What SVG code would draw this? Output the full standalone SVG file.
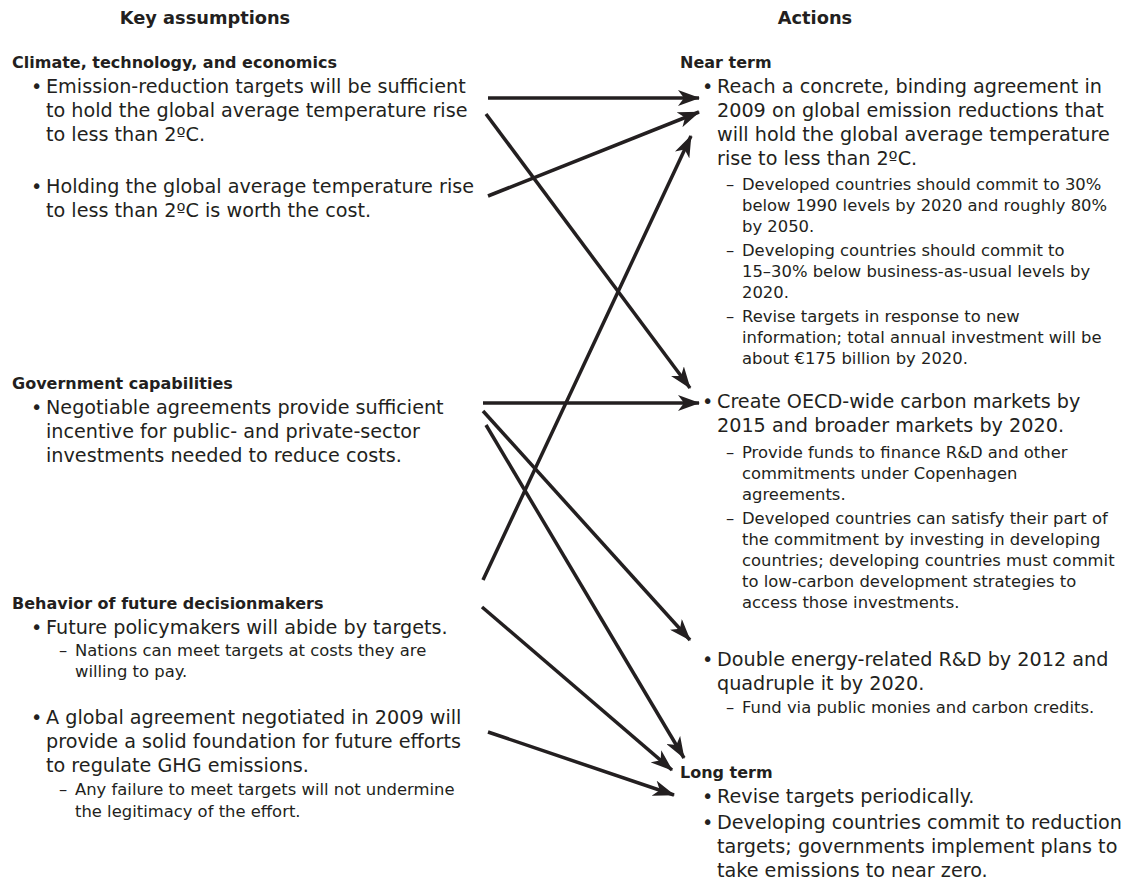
<svg xmlns="http://www.w3.org/2000/svg" width="1128" height="886" viewBox="0 0 1128 886">
<style>
text{font-family:"DejaVu Sans","Open Sans",sans-serif;fill:#231f20}
.h{font-size:17.8px;font-weight:bold}
.s{font-size:16px;font-weight:bold}
.b{font-size:19.2px}
.d{font-size:16.4px}
.c{stroke:#231f20;stroke-width:3.5;fill:none}
</style>
<defs>
<marker id="ah" viewBox="0 0 22 16" refX="21" refY="8" markerWidth="22" markerHeight="16" markerUnits="userSpaceOnUse" orient="auto">
<path d="M0,0 L22,8 L0,16 L6,8 Z" fill="#231f20"/>
</marker>
</defs>
<rect width="1128" height="886" fill="#fff"/>
<g id="headers">
<text class="h" x="205" y="24" text-anchor="middle">Key assumptions</text>
<text class="h" x="815" y="24" text-anchor="middle">Actions</text>
</g>
<g id="climate">
<text class="s" x="12" y="68">Climate, technology, and economics</text>
<text class="b" x="31" y="93">•</text>
<text class="b" x="46" y="93">Emission-reduction targets will be sufficient</text>
<text class="b" x="46" y="117">to hold the global average temperature rise</text>
<text class="b" x="46" y="141">to less than 2ºC.</text>
<text class="b" x="31" y="193">•</text>
<text class="b" x="46" y="193">Holding the global average temperature rise</text>
<text class="b" x="46" y="217">to less than 2ºC is worth the cost.</text>
</g>
<g id="government">
<text class="s" x="12" y="389">Government capabilities</text>
<text class="b" x="31" y="414">•</text>
<text class="b" x="46" y="414">Negotiable agreements provide sufficient</text>
<text class="b" x="46" y="438">incentive for public- and private-sector</text>
<text class="b" x="46" y="462">investments needed to reduce costs.</text>
</g>
<g id="behavior">
<text class="s" x="12" y="609">Behavior of future decisionmakers</text>
<text class="b" x="31" y="634">•</text>
<text class="b" x="46" y="634">Future policymakers will abide by targets.</text>
<text class="d" x="59" y="656">–</text>
<text class="d" x="75" y="656">Nations can meet targets at costs they are</text>
<text class="d" x="75" y="677">willing to pay.</text>
<text class="b" x="31" y="724">•</text>
<text class="b" x="46" y="724">A global agreement negotiated in 2009 will</text>
<text class="b" x="46" y="748">provide a solid foundation for future efforts</text>
<text class="b" x="46" y="772">to regulate GHG emissions.</text>
<text class="d" x="59" y="795">–</text>
<text class="d" x="75" y="795">Any failure to meet targets will not undermine</text>
<text class="d" x="75" y="817">the legitimacy of the effort.</text>
</g>
<g id="near-term">
<text class="s" x="680" y="68">Near term</text>
<text class="b" x="702" y="93">•</text>
<text class="b" x="717" y="93">Reach a concrete, binding agreement in</text>
<text class="b" x="717" y="117">2009 on global emission reductions that</text>
<text class="b" x="717" y="141">will hold the global average temperature</text>
<text class="b" x="717" y="165">rise to less than 2ºC.</text>
<text class="d" x="726" y="190">–</text>
<text class="d" x="742" y="190">Developed countries should commit to 30%</text>
<text class="d" x="742" y="211">below 1990 levels by 2020 and roughly 80%</text>
<text class="d" x="742" y="232">by 2050.</text>
<text class="d" x="726" y="256">–</text>
<text class="d" x="742" y="256">Developing countries should commit to</text>
<text class="d" x="742" y="277">15–30% below business-as-usual levels by</text>
<text class="d" x="742" y="298">2020.</text>
<text class="d" x="726" y="322">–</text>
<text class="d" x="742" y="322">Revise targets in response to new</text>
<text class="d" x="742" y="343">information; total annual investment will be</text>
<text class="d" x="742" y="364">about €175 billion by 2020.</text>
</g>
<g id="markets">
<text class="b" x="702" y="408">•</text>
<text class="b" x="717" y="408">Create OECD-wide carbon markets by</text>
<text class="b" x="717" y="432">2015 and broader markets by 2020.</text>
<text class="d" x="726" y="458">–</text>
<text class="d" x="742" y="458">Provide funds to finance R&amp;D and other</text>
<text class="d" x="742" y="479">commitments under Copenhagen</text>
<text class="d" x="742" y="500">agreements.</text>
<text class="d" x="726" y="524">–</text>
<text class="d" x="742" y="524">Developed countries can satisfy their part of</text>
<text class="d" x="742" y="545">the commitment by investing in developing</text>
<text class="d" x="742" y="566">countries; developing countries must commit</text>
<text class="d" x="742" y="587">to low-carbon development strategies to</text>
<text class="d" x="742" y="608">access those investments.</text>
</g>
<g id="rd">
<text class="b" x="702" y="666">•</text>
<text class="b" x="717" y="666">Double energy-related R&amp;D by 2012 and</text>
<text class="b" x="717" y="690">quadruple it by 2020.</text>
<text class="d" x="726" y="713">–</text>
<text class="d" x="742" y="713">Fund via public monies and carbon credits.</text>
</g>
<g id="long-term">
<text class="s" x="680" y="778">Long term</text>
<text class="b" x="702" y="803">•</text>
<text class="b" x="717" y="803">Revise targets periodically.</text>
<text class="b" x="702" y="829">•</text>
<text class="b" x="717" y="829">Developing countries commit to reduction</text>
<text class="b" x="717" y="853">targets; governments implement plans to</text>
<text class="b" x="717" y="877">take emissions to near zero.</text>
</g>
<g id="connectors" class="c">
<line x1="488" y1="98" x2="699" y2="98" marker-end="url(#ah)"/>
<line x1="488" y1="196" x2="699" y2="112" marker-end="url(#ah)"/>
<line x1="486" y1="114" x2="690" y2="388" marker-end="url(#ah)"/>
<line x1="483" y1="580" x2="691" y2="136" marker-end="url(#ah)"/>
<line x1="483" y1="403" x2="699" y2="403" marker-end="url(#ah)"/>
<line x1="483" y1="411" x2="690" y2="640" marker-end="url(#ah)"/>
<line x1="486" y1="425" x2="684" y2="758" marker-end="url(#ah)"/>
<line x1="482" y1="607" x2="672" y2="770" marker-end="url(#ah)"/>
<line x1="488" y1="732" x2="674" y2="795" marker-end="url(#ah)"/>
</g>
</svg>
